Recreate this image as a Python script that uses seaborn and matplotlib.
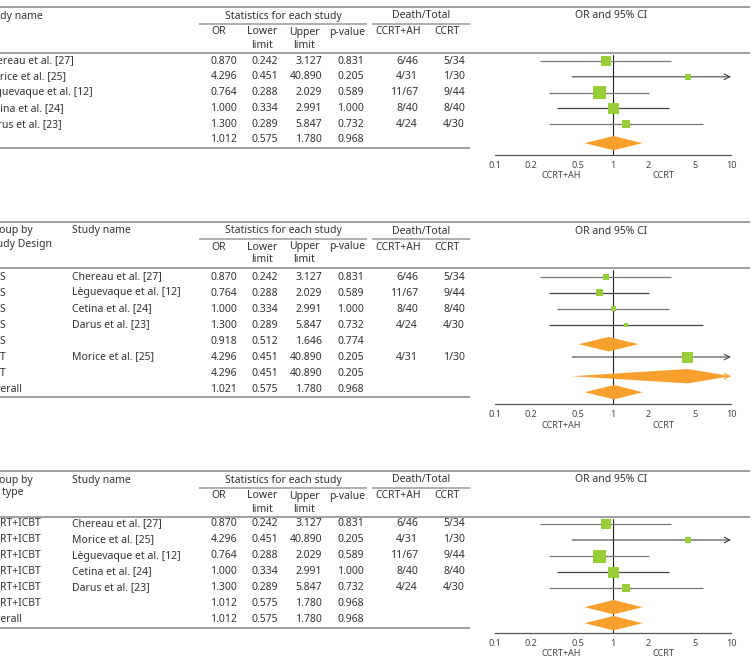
import numpy as np
import pandas as pd
import matplotlib
matplotlib.use('Agg')
import matplotlib.pyplot as plt
import seaborn as sns

sns.set_style('white')
plt.rcParams['font.family'] = ['Noto Sans', 'DejaVu Sans']

# ---- data ----
# panel 1: all studies
p1_names = ['Chereau et al. [27]', 'Morice et al. [25]', 'Lèguevaque et al. [12]',
            'Cetina et al. [24]', 'Darus et al. [23]', '']
p1_or = [0.870, 4.296, 0.764, 1.000, 1.300, 1.012]
p1_lo = [0.242, 0.451, 0.288, 0.334, 0.289, 0.575]
p1_hi = [3.127, 40.890, 2.029, 2.991, 5.847, 1.780]
p1_p = [0.831, 0.205, 0.589, 1.000, 0.732, 0.968]
p1_ah = ['6/46', '4/31', '11/67', '8/40', '4/24', '']
p1_cc = ['5/34', '1/30', '9/44', '8/40', '4/30', '']
p1_wt = [10, 6, 13, 11, 8, 0]
p1_summary = [False, False, False, False, False, True]

# panel 2: grouped by study design
p2_group = ['RCS', 'RCS', 'RCS', 'RCS', 'RCS', 'RCT', 'RCT', 'Overall']
p2_names = ['Chereau et al. [27]', 'Lèguevaque et al. [12]', 'Cetina et al. [24]',
            'Darus et al. [23]', '', 'Morice et al. [25]', '', '']
p2_or = [0.870, 0.764, 1.000, 1.300, 0.918, 4.296, 4.296, 1.021]
p2_lo = [0.242, 0.288, 0.334, 0.289, 0.512, 0.451, 0.451, 0.575]
p2_hi = [3.127, 2.029, 2.991, 5.847, 1.646, 40.890, 40.890, 1.780]
p2_p = [0.831, 0.589, 1.000, 0.732, 0.774, 0.205, 0.205, 0.968]
p2_ah = ['6/46', '11/67', '8/40', '4/24', '', '4/31', '', '']
p2_cc = ['5/34', '9/44', '8/40', '4/30', '', '1/30', '', '']
p2_wt = [5.5, 7, 5, 4, 0, 11, 0, 0]
p2_summary = [False, False, False, False, True, False, True, True]

# panel 3: grouped by RT type
p3_group = ['CCRT+ICBT'] * 6 + ['Overall']
p3_names = ['Chereau et al. [27]', 'Morice et al. [25]', 'Lèguevaque et al. [12]',
            'Cetina et al. [24]', 'Darus et al. [23]', '', '']
p3_or = [0.870, 4.296, 0.764, 1.000, 1.300, 1.012, 1.012]
p3_lo = [0.242, 0.451, 0.288, 0.334, 0.289, 0.575, 0.575]
p3_hi = [3.127, 40.890, 2.029, 2.991, 5.847, 1.780, 1.780]
p3_p = [0.831, 0.205, 0.589, 1.000, 0.732, 0.968, 0.968]
p3_ah = ['6/46', '4/31', '11/67', '8/40', '4/24', '', '']
p3_cc = ['5/34', '1/30', '9/44', '8/40', '4/30', '', '']
p3_wt = [10, 6, 13, 11, 8, 0, 0]
p3_summary = [False] * 5 + [True, True]

ticks = [0.1, 0.2, 0.5, 1, 2, 5, 10]
tick_labels = ['0.1', '0.2', '0.5', '1', '2', '5', '10']

GREEN = '#9acd3a'
ORANGE = '#f7a02e'
LINE = '#9a9a9a'
TXT = '#333333'
W, H = 752, 667

fig = plt.figure(figsize=(W / 100, H / 100), dpi=100)
bg = fig.add_axes([0, 0, 1, 1])
bg.set_xlim(0, W)
bg.set_ylim(H, 0)
bg.axis('off')

FS = 7.5


def txt(x, y, s, ha='left', size=FS, color=TXT):
    bg.text(x, y, s, ha=ha, va='center', fontsize=size, color=color)


def hline(y, x0, x1, lw=1.3):
    bg.plot([x0, x1], [y, y], color=LINE, lw=lw, solid_capstyle='butt')


def panel(top, row0, step, names, ors, los, his, ps, ahs, ccs, wts, summ,
          groups=None, group_head=None, axis_y=None):
    # header
    hline(top, 0, 750)
    hy = top + 9
    name_x = -16
    if groups is not None:
        txt(-13, hy, group_head[0])
        txt(-13, hy + 13, group_head[1])
        name_x = 72
    txt(name_x, hy, 'Study name')
    txt(283, hy, 'Statistics for each study', ha='center')
    hline(top + 17, 199, 367, lw=1.1)
    txt(421, hy, 'Death/Total', ha='center')
    hline(top + 17, 372, 470, lw=1.1)
    txt(611, hy, 'OR and 95% CI', ha='center')
    sy = top + 25
    txt(219, sy, 'OR', ha='center')
    txt(262, sy, 'Lower', ha='center')
    txt(262, sy + 13, 'limit', ha='center')
    txt(304, sy, 'Upper', ha='center')
    txt(304, sy + 13, 'limit', ha='center')
    txt(347, sy, 'p-value', ha='center')
    txt(398, sy, 'CCRT+AH', ha='center')
    txt(447, sy, 'CCRT', ha='center')
    head_bot = top + 46
    hline(head_bot, 0, 750)

    n = len(ors)
    for i in range(n):
        y = row0 + i * step
        if groups is not None:
            txt(-13, y, groups[i])
        txt(name_x, y, names[i])
        txt(237, y, f'{ors[i]:.3f}', ha='right')
        txt(278, y, f'{los[i]:.3f}', ha='right')
        txt(322, y, f'{his[i]:.3f}', ha='right')
        txt(364, y, f'{ps[i]:.3f}', ha='right')
        txt(418, y, ahs[i], ha='right')
        txt(465, y, ccs[i], ha='right')
    last_y = row0 + (n - 1) * step
    hline(last_y + 8, 0, 470)

    # forest axes: x log scale 0.1..10 -> px 495..731
    y_top_idx = (head_bot + 2 - row0) / step
    y_bot_idx = (axis_y - row0) / step
    ax = fig.add_axes([495 / W, 1 - axis_y / H, 236 / W, (axis_y - head_bot - 2) / H])
    ax.set_xscale('log')
    ax.set_xlim(0.1, 10)
    ax.set_ylim(y_bot_idx, y_top_idx)
    ax.patch.set_alpha(0)
    for s in ['top', 'right', 'left']:
        ax.spines[s].set_visible(False)
    ax.spines['bottom'].set_color('#555555')
    ax.spines['bottom'].set_linewidth(0.9)
    ax.set_yticks([])
    ax.set_xticks(ticks)
    ax.set_xticklabels(tick_labels)
    ax.minorticks_off()
    ax.tick_params(axis='x', direction='inout', length=6, width=0.9, color='#555555',
                   labelsize=6.5, labelcolor='#444444', pad=1)
    ax.axvline(1, color='#222222', lw=0.8, zorder=1)

    df = pd.DataFrame({'or': ors, 'lo': los, 'hi': his, 'wt': wts,
                       'summ': summ, 'row': np.arange(n)})
    studies = df[~df['summ']]
    for _, r in studies.iterrows():
        col = '#777777' if r['row'] % 2 == 0 else '#444444'
        if r['hi'] > 10:
            ax.annotate('', xy=(10, r['row']), xytext=(r['lo'], r['row']),
                        arrowprops=dict(arrowstyle='->', lw=0.8, color=col,
                                        shrinkA=0, shrinkB=0), annotation_clip=False)
        else:
            ax.hlines(r['row'], r['lo'], r['hi'], color=col, lw=0.9, zorder=1)
    sns.scatterplot(data=studies, x='or', y='row', marker='s', color=GREEN,
                    s=(studies['wt'] * 0.72) ** 2, linewidth=0, ax=ax, zorder=3,
                    legend=False)
    ax.set_xlabel('')
    ax.set_ylabel('')

    for _, r in df[df['summ']].iterrows():
        yc = r['row'] + 0.2
        h = 0.45
        hi = min(r['hi'], 10)
        ax.fill([r['lo'], r['or'], hi, r['or']], [yc, yc - h, yc, yc + h],
                color=ORANGE, lw=0, zorder=2)
        if r['hi'] > 10:
            ax.annotate('', xy=(10, yc), xytext=(8, yc),
                        arrowprops=dict(arrowstyle='->', lw=0.8, color=ORANGE,
                                        shrinkA=0, shrinkB=0), annotation_clip=False)

    txt(561, axis_y + 21, 'CCRT+AH', size=6.5, ha='center', color='#444444')
    txt(663, axis_y + 21, 'CCRT', size=6.5, ha='center', color='#444444')


panel(7, 61, 15.8, p1_names, p1_or, p1_lo, p1_hi, p1_p, p1_ah, p1_cc, p1_wt,
      p1_summary, axis_y=155)
panel(222, 277, 16.0, p2_names, p2_or, p2_lo, p2_hi, p2_p, p2_ah, p2_cc, p2_wt,
      p2_summary, groups=p2_group, group_head=('Group by', 'Study Design'), axis_y=404)
panel(471, 524, 16.0, p3_names, p3_or, p3_lo, p3_hi, p3_p, p3_ah, p3_cc, p3_wt,
      p3_summary, groups=p3_group, group_head=('Group by', 'RT type'), axis_y=633)

fig.savefig('out.png', dpi=100)
